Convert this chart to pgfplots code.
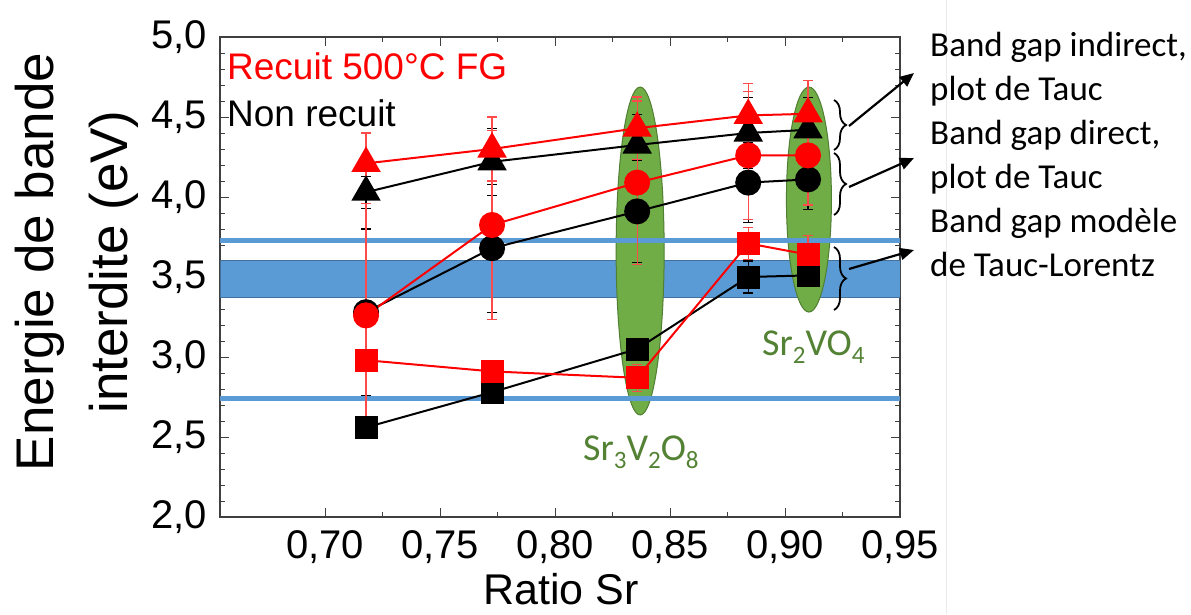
\documentclass[border=0pt]{standalone}
\usepackage{pgfplots}
\pgfplotsset{compat=1.18}
\usepackage{fontspec}
\setmainfont{Liberation Sans}
\newfontfamily\calibri{Carlito}
\usetikzlibrary{decorations.pathreplacing,arrows.meta}
\definecolor{bandblue}{HTML}{5B9BD5}
\definecolor{bandedge}{HTML}{41719C}
\definecolor{ellgreen}{HTML}{70AD47}
\definecolor{elledge}{HTML}{507E32}
\definecolor{labgreen}{HTML}{548235}
\definecolor{errred}{HTML}{FF4A4A}
\newcommand\sub[1]{\raisebox{-0.22em}{\fontsize{25}{25}\selectfont #1}}
\begin{document}
\begin{tikzpicture}[x=1pt,y=1pt]
\useasboundingbox (0,0) rectangle (1191,614);
\fill[white] (0,0) rectangle (1191,614);
\draw[black!8, line width=0.8pt] (946,0) -- (946,614);
\begin{axis}[
  at={(220pt,97pt)}, anchor=south west,
  width=680pt, height=480pt, scale only axis,
  xmin=0.6543, xmax=0.95, ymin=2, ymax=5,
  xtick={0.70,0.75,0.80,0.85,0.90,0.95},
  ytick={2,2.5,3,3.5,4,4.5,5},
  minor x tick num=1, minor y tick num=4,
  tick align=inside,
  major tick length=9pt, minor tick length=5pt,
  axis line style={draw=black!75, line width=1.2pt},
  every tick/.style={black!75, line width=1pt},
  ticklabel style={font=\fontsize{40}{40}\selectfont, inner sep=0pt},
  /pgf/number format/assume math mode=true,
  xticklabel style={yshift=-13pt, /pgf/number format/fixed, /pgf/number format/fixed zerofill, /pgf/number format/precision=2, /pgf/number format/use comma},
  yticklabel style={xshift=-13pt, /pgf/number format/fixed, /pgf/number format/fixed zerofill, /pgf/number format/precision=1, /pgf/number format/use comma},
  scaled x ticks=false,
  error bars/y dir=both, error bars/y explicit,
]
% band
\addplot[draw=bandedge, line width=1pt, fill=bandblue] coordinates {(0.6543,3.37) (0.95,3.37) (0.95,3.606) (0.6543,3.606)} -- cycle;
% ellipses
\draw[fill=ellgreen, draw=elledge, line width=1pt] (axis cs:0.837,3.6625) ellipse [x radius=24pt, y radius=164pt];
\draw[fill=ellgreen, draw=elledge, line width=1pt] (axis cs:0.9104,3.984) ellipse [x radius=22.5pt, y radius=112.5pt];
% lines
\addplot[bandblue, line width=5pt, no marks, forget plot] coordinates {(0.6543,3.727) (0.95,3.727)};
\addplot[bandblue, line width=5pt, no marks, forget plot] coordinates {(0.6543,2.74) (0.95,2.74)};
% black series
\addplot[black, line width=2pt, mark=triangle*, mark size=15pt, mark options={solid, fill=black},
  error bars/error bar style={line width=1.2pt, black},
  error bars/error mark options={rotate=90, mark size=5pt, line width=1.2pt, black}]
  coordinates {(0.7178,4.03) +- (0,0.10) (0.7726,4.22) +- (0,0.21) (0.8357,4.325) +- (0,0.19) (0.884,4.40) +- (0,0.22) (0.910,4.42) +- (0,0.20)};
\addplot[black, line width=2pt, mark=*, mark size=12pt, mark options={solid, fill=black},
  error bars/error bar style={line width=1.2pt, black},
  error bars/error mark options={rotate=90, mark size=5pt, line width=1.2pt, black}]
  coordinates {(0.7178,3.28) +- (0,0.52) (0.7726,3.68) +- (0,0.40) (0.8357,3.91) +- (0,0.32) (0.884,4.09) +- (0,0.25) (0.910,4.11) +- (0,0.19)};
\addplot[black, line width=2pt, mark=square*, mark size=10.5pt, mark options={solid, fill=black},
  error bars/error bar style={line width=1.2pt, black},
  error bars/error mark options={rotate=90, mark size=5pt, line width=1.2pt, black}]
  coordinates {(0.7178,2.56) +- (0,0.05) (0.7726,2.78) +- (0,0.05) (0.8357,3.05) +- (0,0.05) (0.884,3.50) +- (0,0.10) (0.910,3.51) +- (0,0.07)};
% red series
\addplot[red, line width=2pt, mark=triangle*, mark size=15pt, mark options={solid, fill=red},
  error bars/error bar style={line width=1.3pt, errred},
  error bars/error mark options={rotate=90, mark size=5pt, line width=1.3pt, errred}]
  coordinates {(0.7178,4.21) +- (0,0.19) (0.7726,4.30) +- (0,0.20) (0.8357,4.43) +- (0,0.195) (0.884,4.51) +- (0,0.20) (0.910,4.52) +- (0,0.21)};
\addplot[red, line width=2pt, mark=*, mark size=12pt, mark options={solid, fill=red},
  error bars/error bar style={line width=1.3pt, errred},
  error bars/error mark options={rotate=90, mark size=5pt, line width=1.3pt, errred}]
  coordinates {(0.7178,3.26) +- (0,0.70) (0.7726,3.825) +- (0,0.59) (0.8357,4.09) +- (0,0.51) (0.884,4.26) +- (0,0.40) (0.910,4.26) +- (0,0.31)};
\addplot[red, line width=2pt, mark=square*, mark size=10.5pt, mark options={solid, fill=red},
  error bars/error bar style={line width=1.3pt, errred},
  error bars/error mark options={rotate=90, mark size=5pt, line width=1.3pt, errred}]
  coordinates {(0.7178,2.98) +- (0,0.05) (0.7726,2.91) +- (0,0.05) (0.8357,2.87) +- (0,0.085) (0.884,3.71) +- (0,0.10) (0.910,3.64) +- (0,0.12)};
\end{axis}
% axis labels
\node[rotate=90, anchor=base, inner sep=0, font=\fontsize{53}{53}\selectfont] at (53,352) {Energie de bande};
\node[rotate=90, anchor=base, inner sep=0, font=\fontsize{53}{53}\selectfont] at (127,352) {interdite (eV)};
\node[anchor=base, inner sep=0, font=\fontsize{43}{43}\selectfont] at (561,10) {Ratio Sr};
% legend text
\node[anchor=base west, inner sep=0, red, font=\fontsize{37}{37}\selectfont] at (227,534) {Recuit 500°C FG};
\node[anchor=base west, inner sep=0, font=\fontsize{37}{37}\selectfont] at (227,487) {Non recuit};
% phase labels
\node[anchor=base west, inner sep=0, labgreen, font=\calibri\fontsize{38}{38}\selectfont] at (583,154) {Sr\sub{3}V\sub{2}O\sub{8}};
\node[anchor=base west, inner sep=0, labgreen, font=\calibri\fontsize{38}{38}\selectfont] at (762,259) {Sr\sub{2}VO\sub{4}};
% braces and arrows
\draw[decorate, decoration={brace, amplitude=12pt}, line width=1.8pt] (834,514) -- (834,464);
\draw[decorate, decoration={brace, amplitude=12pt}, line width=1.8pt] (834,461) -- (834,399);
\draw[decorate, decoration={brace, amplitude=12pt}, line width=1.8pt] (834,367) -- (834,304);
\draw[-{Triangle[length=14pt,width=12pt]}, line width=2.2pt] (849,488) -- (914,541);
\draw[-{Triangle[length=14pt,width=12pt]}, line width=2.2pt] (849,427) -- (914,456);
\draw[-{Triangle[length=14pt,width=12pt]}, line width=2.2pt] (849,345) -- (914,364);
% right text
\begin{scope}[every node/.style={anchor=base west, inner sep=0, font=\calibri\fontsize{35}{35}\selectfont}]
\node at (930,557) {Band gap indirect,};
\node at (930,513) {plot de Tauc};
\node at (930,469) {Band gap direct,};
\node at (930,425) {plot de Tauc};
\node at (930,381) {Band gap modèle};
\node at (930,337) {de Tauc-Lorentz};
\end{scope}
\end{tikzpicture}
\end{document}
